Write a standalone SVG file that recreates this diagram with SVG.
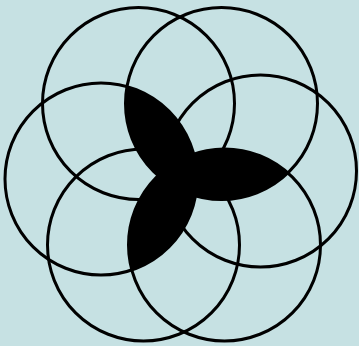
<svg xmlns="http://www.w3.org/2000/svg" width="359" height="346" viewBox="0 0 359 346">
  <style>
    .ring { fill: none; stroke: #000; stroke-width: 3; }
    .petal { fill: #000; stroke: none; }
  </style>
  <defs>
    <clipPath id="clipB"><circle cx="221.5" cy="103.5" r="96"/></clipPath>
    <clipPath id="clipC"><circle cx="101" cy="179" r="96"/></clipPath>
  </defs>
  <rect width="359" height="346" fill="#c6e1e3"/>
  <g id="petals">
    <circle class="petal" cx="101" cy="179" r="96" clip-path="url(#clipB)"/>
    <circle class="petal" cx="224.5" cy="245" r="96" clip-path="url(#clipB)"/>
    <circle class="petal" cx="224.5" cy="245" r="96" clip-path="url(#clipC)"/>
  </g>
  <g id="circles">
    <g id="circle-a"><circle class="ring" cx="138.5" cy="103.5" r="96"/></g>
    <g id="circle-b"><circle class="ring" cx="221.5" cy="103.5" r="96"/></g>
    <g id="circle-c"><circle class="ring" cx="101" cy="179" r="96"/></g>
    <g id="circle-d"><circle class="ring" cx="260.5" cy="171" r="96"/></g>
    <g id="circle-e"><circle class="ring" cx="143.5" cy="245" r="96"/></g>
    <g id="circle-f"><circle class="ring" cx="224.5" cy="245" r="96"/></g>
  </g>
</svg>
